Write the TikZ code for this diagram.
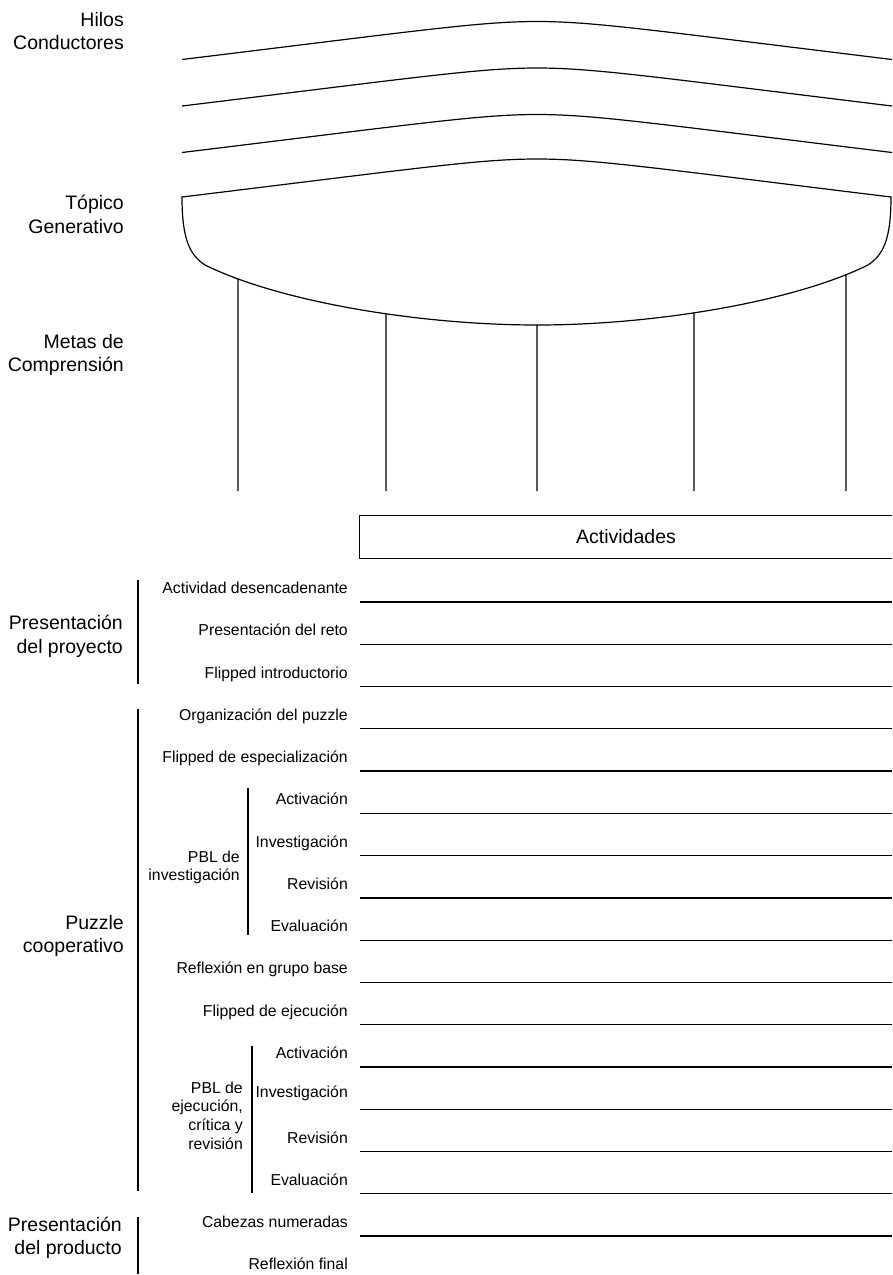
\documentclass[tikz,border=0pt]{standalone}
\usepackage{fontspec}
\setmainfont{Liberation Sans}
\usetikzlibrary{intersections}
\begin{document}
\begin{tikzpicture}[x=1pt,y=-1pt,
  ln/.style={line width=1.2pt, black},
  big/.style={font=\fontsize{19.5}{23.5}\selectfont, align=right, anchor=east, inner sep=0pt},
  mid/.style={font=\fontsize{15.8}{18.7}\selectfont, align=right, anchor=east, inner sep=0pt},
  lbl/.style={font=\fontsize{15.8}{18.7}\selectfont, anchor=base east, inner sep=0pt}]
\useasboundingbox (0,0) rectangle (892,1275);

% Hilos conductores
\foreach \y in {59.5,106,152.5}
  \draw[ln] (182,\y) .. controls (420,\y-29) and (480,\y-38) .. (537,\y-38)
            .. controls (594,\y-38) and (654,\y-29) .. (892,\y);

% Topico generativo (bowl)
\draw[ln] (182,197) .. controls (420,168) and (480,159) .. (537,159)
  .. controls (594,159) and (654,168) .. (891,197)
  .. controls (891,240) and (883,255) .. (868,265)
  .. controls (793,302) and (654,325) .. (537,325)
  .. controls (420,325) and (280,302) .. (205,265)
  .. controls (190,255) and (182,240) .. (182,197) -- cycle;
\path[name path=arc] (205,265) .. controls (280,302) and (420,325) .. (537,325)
  .. controls (654,325) and (793,302) .. (868,265);

% Metas de comprension
\foreach \x [count=\i] in {238,386,537,694,846} {
  \path[name path=v\i] (\x,230) -- (\x,400);
  \draw[ln, name intersections={of=arc and v\i}] (intersection-1) -- (\x,491);
}

% Actividades
\node[minimum width=532pt, minimum height=42pt, inner sep=0pt,
      font=\fontsize{19.5}{23.5}\selectfont] (act) at (626,537) {Actividades};
\draw[ln] (act.north east) -- (act.north west) -- (act.south west) -- (act.south east);

% Rows
\foreach \t/\d [count=\i from 0] in {
  Actividad desencadenante/8.5, Presentación del reto/8.5, Flipped introductorio/8.5,
  Organización del puzzle/8.5, Flipped de especialización/8.5,
  Activación/8.5, Investigación/8.5, Revisión/8.5, Evaluación/8.5,
  Reflexión en grupo base/8.5, Flipped de ejecución/8.5,
  Activación/8.5, Investigación/12, Revisión/8.5, Evaluación/8.5,
  Cabezas numeradas/8.5} {
  \pgfmathsetmacro\ly{602+42.27*\i}
  \node[lbl] (r\i) at (348,\ly-\d) {\t};
  \draw[ln] (360,\ly) coordinate (a\i) -- (892,\ly) coordinate (b\i);
}
\node[lbl] (r16) at (348,1269.8) {Reflexión final};

% Brackets
\draw[ln] (138,580) -- (138,684);
\draw[ln] (138,709) -- (138,1191);
\draw[ln] (138,1217) -- (138,1274);
\draw[ln] (248,788) -- (248,935);
\draw[ln] (252,1046) -- (252,1193);

% Left labels
\node[big] (hilos) at (124,31) {Hilos\\Conductores};
\node[big] (topico) at (124,214.5) {Tópico\\Generativo};
\node[big] (metas) at (124,355) {Metas de\\Comprensión};
\node[big] (pproy) at (123,636.5) {Presentación\\del proyecto};
\node[big] (puzzle) at (124,936) {Puzzle\\cooperativo};
\node[big] (pprod) at (122,1238) {Presentación\\del producto};
\node[mid] (pbl1) at (240,867.5) {PBL de\\investigación};
\node[mid] (pbl2) at (243,1115.5) {PBL de\\ejecución,\\crítica y\\revisión};
\end{tikzpicture}
\end{document}
